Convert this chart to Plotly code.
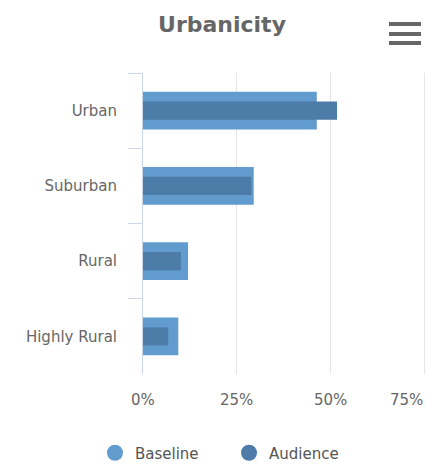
import plotly.graph_objects as go

# Share of each urbanicity class, in percent
categories = ["Urban", "Suburban", "Rural", "Highly Rural"]
baseline = [46.3, 29.5, 12.0, 9.4]
audience = [51.7, 28.9, 10.1, 6.7]
x_ticks = [0, 25, 50, 75]
x_tick_labels = ["0%", "25%", "50%", "75%"]

BASE_COLOR = "#629bcd"
AUD_COLOR = "#4e7ca9"
TEXT = "#666666"
FONT = "DejaVu Sans"

W, H = 427, 473
M_L, M_R, M_T, M_B = 143, 1, 73, 99

fig = go.Figure()

fig.add_trace(go.Bar(
    y=categories, x=baseline, orientation="h", width=0.5,
    marker=dict(color=BASE_COLOR, line=dict(width=0)),
    name="Baseline", showlegend=False,
))
fig.add_trace(go.Bar(
    y=categories, x=audience, orientation="h", width=0.24,
    marker=dict(color=AUD_COLOR, line=dict(width=0)),
    name="Audience", showlegend=False,
))

# round legend symbols
for name, color in (("Baseline", BASE_COLOR), ("Audience", AUD_COLOR)):
    fig.add_trace(go.Scatter(
        x=[None], y=[None], mode="markers", name=name,
        marker=dict(color=color, size=18, symbol="circle"),
    ))

# x tick labels, the last one kept inside the chart
annotations = []
for v, t in zip(x_ticks, x_tick_labels):
    annotations.append(dict(
        x=v, xref="x", y=-26 / (H - M_T - M_B), yref="paper",
        text=t, showarrow=False,
        xanchor="right" if v == x_ticks[-1] else "center", yanchor="middle",
        font=dict(family=FONT, size=15, color=TEXT),
    ))

# context-menu icon
plot_w = W - M_L - M_R
plot_h = H - M_T - M_B
shapes = []
for py in (24, 34, 43):
    yp = (H - M_B - py) / plot_h
    shapes.append(dict(
        type="line", xref="paper", yref="paper",
        x0=(389 - M_L) / plot_w, x1=(421 - M_L) / plot_w, y0=yp, y1=yp,
        line=dict(color="#666666", width=4),
    ))

fig.update_layout(
    width=W, height=H,
    margin=dict(l=M_L, r=M_R, t=M_T, b=M_B),
    paper_bgcolor="white", plot_bgcolor="white",
    barmode="overlay",
    font=dict(family=FONT, color=TEXT),
    title=dict(
        text="<b>Urbanicity</b>", x=222 / W, xref="container", xanchor="center",
        y=1 - 24 / H, yref="container", yanchor="middle",
        font=dict(family=FONT, size=22, color=TEXT),
    ),
    xaxis=dict(
        range=[0, 75.4], tickvals=x_ticks, showticklabels=False,
        showgrid=True, gridcolor="#e6e6e6", gridwidth=1,
        zeroline=False, showline=False, ticks="",
        fixedrange=True,
    ),
    yaxis=dict(
        categoryorder="array", categoryarray=categories, autorange="reversed",
        showline=True, linecolor="#ccd6eb", linewidth=1,
        ticks="outside", tickson="boundaries", ticklen=14, tickcolor="#ccd6eb",
        tickfont=dict(family=FONT, size=15, color=TEXT),
        ticklabelstandoff=22,
        showgrid=False, zeroline=False, fixedrange=True,
    ),
    legend=dict(
        orientation="h", xref="container", x=95 / W, xanchor="left",
        yref="container", y=1 - 453 / H, yanchor="middle",
        font=dict(family=FONT, size=15, color="#555555"),
        itemsizing="trace", entrywidth=89, entrywidthmode="pixels",
    ),
    annotations=annotations,
    shapes=shapes,
    showlegend=True,
)

fig.write_html("out.html", config={"displayModeBar": False})
